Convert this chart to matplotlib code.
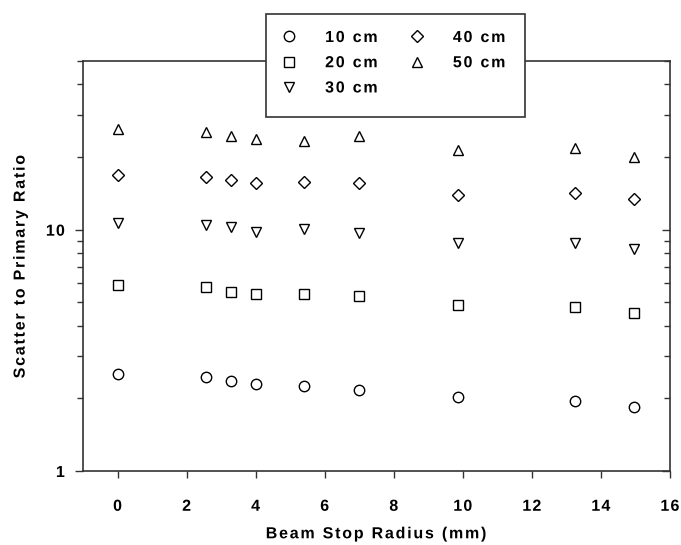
import numpy as np
import matplotlib
matplotlib.use("Agg")
import matplotlib.pyplot as plt
from matplotlib.patches import Rectangle
from matplotlib.path import Path
from matplotlib.patheffects import AbstractPathEffect
from matplotlib.ticker import LogLocator, NullFormatter, FixedLocator, FixedFormatter

plt.rcParams['font.family'] = ['Liberation Sans', 'DejaVu Sans']
plt.rcParams['font.weight'] = 'bold'

# Beam stop radius (mm)
radius = [0, 2.55, 3.3, 4.0, 5.4, 7.0, 9.85, 13.25, 14.95]

# Scatter-to-primary ratio for each phantom thickness
spr_10cm = [2.53, 2.46, 2.36, 2.29, 2.25, 2.17, 2.03, 1.95, 1.84]
spr_20cm = [5.89, 5.76, 5.53, 5.41, 5.41, 5.29, 4.89, 4.76, 4.51]
spr_30cm = [10.7, 10.46, 10.29, 9.74, 10.07, 9.65, 8.77, 8.83, 8.31]
spr_40cm = [16.9, 16.6, 16.1, 15.6, 15.8, 15.6, 13.9, 14.2, 13.4]
spr_50cm = [26.2, 25.3, 24.5, 23.8, 23.4, 24.5, 21.3, 21.7, 20.1]

series_labels = ['10 cm', '20 cm', '30 cm', '40 cm', '50 cm']
series_values = [spr_10cm, spr_20cm, spr_30cm, spr_40cm, spr_50cm]
series_markers = ['o', 's', 'v', 'D', '^']
series_sizes = [7.5, 6.8, 7.5, 6.0, 7.8]

x_ticks = [0, 2, 4, 6, 8, 10, 12, 14, 16]
y_ticks = [1, 10]
y_ticklabels = ['1', '10']


class Tracking(AbstractPathEffect):
    """Draw text with extra space between glyphs (letter tracking)."""

    def __init__(self, track_px=2.0, anchor=0.5):
        super().__init__()
        self.track_px = track_px
        self.anchor = anchor

    def draw_path(self, renderer, gc, tpath, affine, rgbFace=None):
        verts = np.asarray(tpath.vertices, dtype=float)
        codes = tpath.codes
        if codes is None or len(verts) == 0:
            renderer.draw_path(gc, tpath, affine, rgbFace)
            return
        starts = list(np.where(codes == Path.MOVETO)[0]) + [len(codes)]
        contours = [(starts[i], starts[i + 1]) for i in range(len(starts) - 1)]
        ext = [(verts[a:b, 0].min(), verts[a:b, 0].max()) for a, b in contours]
        order = sorted(range(len(contours)), key=lambda i: ext[i][0])
        slot = {}
        idx = -1
        cur_max = -np.inf
        for i in order:
            lo, hi = ext[i]
            if idx >= 0 and lo < cur_max - 1.0:
                cur_max = max(cur_max, hi)
            else:
                if idx >= 0 and lo - cur_max > 22:  # a word space
                    idx += 1
                idx += 1
                cur_max = hi
            slot[i] = idx
        p0 = affine.transform([0, 0])
        p1 = affine.transform([1, 0])
        px_per_unit = np.hypot(*(p1 - p0))
        step = self.track_px / px_per_unit
        n = max(slot.values()) if slot else 0
        offset = -self.anchor * n * step
        new_verts = verts.copy()
        for i, (a, b) in enumerate(contours):
            new_verts[a:b, 0] += offset + slot[i] * step
        renderer.draw_path(gc, Path(new_verts, codes), affine, rgbFace)


W, H = 681, 545
fig = plt.figure(figsize=(W / 100, H / 100), dpi=100)
ax = fig.add_axes([83 / W, 1 - 471 / H, (670 - 83) / W, (471 - 61) / H])

handles = []
for vals, lab, mk, ms in zip(series_values, series_labels, series_markers, series_sizes):
    h, = ax.plot(radius, vals, linestyle='none', marker=mk, markersize=ms,
                 markerfacecolor='none', markeredgecolor='black',
                 markeredgewidth=1.0, label=lab)
    handles.append(h)

ax.set_yscale('log')
ax.set_xlim(-1, 16)
ax.set_ylim(1, 50)

ax.xaxis.set_major_locator(FixedLocator(x_ticks))
ax.set_xticklabels([str(t) for t in x_ticks])
ax.yaxis.set_major_locator(FixedLocator(y_ticks))
ax.yaxis.set_major_formatter(FixedFormatter(y_ticklabels))
ax.yaxis.set_minor_locator(LogLocator(base=10, subs=range(2, 10)))
ax.yaxis.set_minor_formatter(NullFormatter())

spine_color = '#333333'
for s in ax.spines.values():
    s.set_color(spine_color)
    s.set_linewidth(1.2)

ax.tick_params(axis='x', which='major', direction='out', length=5, width=1,
               color=spine_color, top=False, labelsize=11.5, pad=15)
ax.tick_params(axis='y', which='both', left=True, right=True, direction='out',
               color=spine_color, width=1, labelsize=11.5, pad=7)
ax.tick_params(axis='y', which='major', length=6)
ax.tick_params(axis='y', which='minor', length=4)
# right-hand ticks point into the plot
for tk in ax.yaxis.get_major_ticks() + ax.yaxis.get_minor_ticks():
    tk.tick2line.set_marker(matplotlib.lines.TICKLEFT)

for lbl in ax.get_xticklabels():
    lbl.set_fontweight('bold')
    lbl.set_path_effects([Tracking(1.2, 0.5)])
for lbl in ax.get_yticklabels():
    lbl.set_fontweight('bold')
    lbl.set_path_effects([Tracking(1.2, 1.0)])

xl = ax.set_xlabel('Beam Stop Radius (mm)', fontsize=11.5, fontweight='bold', labelpad=9)
yl = ax.set_ylabel('Scatter to Primary Ratio', fontsize=11.5, fontweight='bold', labelpad=14)
xl.set_path_effects([Tracking(1.8, 0.5)])
yl.set_path_effects([Tracking(1.8, 0.5)])

# legend box straddling the top of the plot
fig.patches.append(Rectangle((265.7 / W, 1 - 117 / H), (525 - 265.7) / W, (117 - 14) / H,
                             transform=fig.transFigure, facecolor='white',
                             edgecolor=spine_color, linewidth=1.2, zorder=5))
leg = fig.legend(handles=handles, loc='upper left', ncol=2,
                 bbox_to_anchor=(274 / W, 1 - 30 / H), frameon=False,
                 prop={'weight': 'bold', 'size': 11.5},
                 handlelength=1.9, handletextpad=1.3, columnspacing=1.95,
                 labelspacing=0.64, borderpad=0, borderaxespad=0)
leg.set_zorder(6)
for t in leg.get_texts():
    t.set_path_effects([Tracking(1.8, 0.0)])

fig.savefig('out.png', dpi=100)
